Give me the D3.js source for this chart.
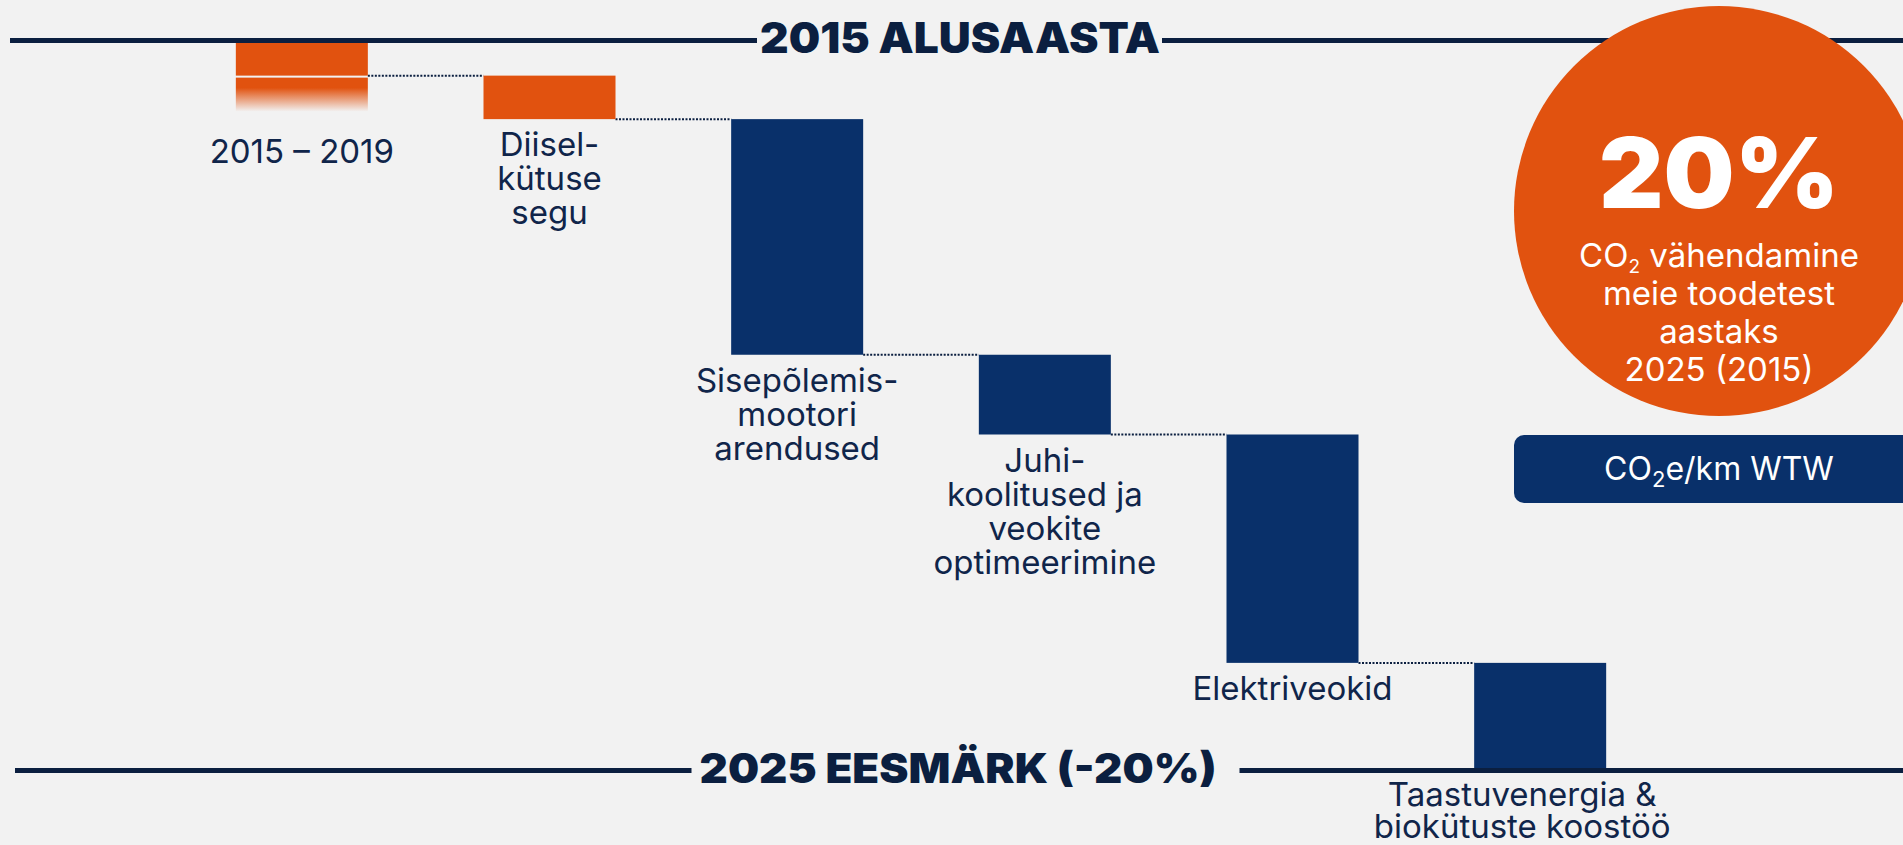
<!DOCTYPE html>
<html>
<head>
<meta charset="utf-8">
<script src="https://cdn.jsdelivr.net/npm/d3@7"></script>
<style>
  html, body { margin: 0; padding: 0; background: #f2f2f2; overflow: hidden; }
  svg { display: block; }
  text { font-family: Inter, "Noto Sans", sans-serif; }
</style>
</head>
<body>
<script>
// waterfall steps, percent of 2015 CO2e/km
const categories = ['2015-2019', 'diisel', 'sisepolemis', 'juhi', 'elektri', 'taastuv'];
const labelLines = [
  ['2015 – 2019'],
  ['Diisel-', 'kütuse', 'segu'],
  ['Sisepõlemis-', 'mootori', 'arendused'],
  ['Juhi-', 'koolitused ja', 'veokite', 'optimeerimine'],
  ['Elektriveokid'],
  ['Taastuvenergia &', 'biokütuste koostöö']
];
const reductions = [0.9, 1.2, 6.5, 2.2, 6.3, 2.9];
const stepKind = ['done', 'done', 'plan', 'plan', 'plan', 'plan'];
const target = 20;
const topTitle = '2015 ALUSAASTA';
const bottomTitle = '2025 EESMÄRK (-20%)';
const badgeValue = '20%';
const badgeLines = [['CO', '2', ' vähendamine'], ['meie toodetest'], ['aastaks'], ['2025 (2015)']];
const unitLabel = ['CO', '2', 'e/km WTW'];

const W = window.innerWidth, H = window.innerHeight;
const ORANGE = '#e1520f', NAVY = '#09306a', INK = '#0b1f40', TXT = '#10254a';

const svg = d3.select('body').append('svg')
    .attr('width', W)
    .attr('height', H);

const defs = svg.append('defs');
const fade = defs.append('linearGradient')
    .attr('id', 'fade').attr('x1', 0).attr('x2', 0).attr('y1', 0).attr('y2', 1);
fade.append('stop').attr('offset', '0%').attr('stop-color', ORANGE).attr('stop-opacity', 1);
fade.append('stop').attr('offset', '30%').attr('stop-color', ORANGE).attr('stop-opacity', 1);
fade.append('stop').attr('offset', '100%').attr('stop-color', ORANGE).attr('stop-opacity', 0);

const x = d3.scaleBand()
    .domain(categories)
    .range([178, 1664])
    .paddingInner(0.467)
    .paddingOuter(0.2335);

const y = d3.scaleLinear()
    .domain([0, target])
    .range([43, 768]);

let acc = 0;
const steps = categories.map((c, i) => {
  const s = { key: c, start: acc, end: acc + reductions[i], kind: stepKind[i], lines: labelLines[i] };
  acc += reductions[i];
  return s;
});

// baseline / target rules with titles
const rules = svg.append('g');
function rule(yy, title, size, len, cx, gapL, gapR, x0) {
  rules.append('line').attr('x1', x0).attr('x2', cx - len / 2 - gapL)
      .attr('y1', yy).attr('y2', yy).attr('stroke', INK).attr('stroke-width', 5);
  rules.append('line').attr('x1', cx + len / 2 + gapR).attr('x2', W)
      .attr('y1', yy).attr('y2', yy).attr('stroke', INK).attr('stroke-width', 5);
  rules.append('text')
      .attr('x', cx - len / 2).attr('y', yy + size * 0.3)
      .attr('textLength', len).attr('lengthAdjust', 'spacingAndGlyphs')
      .attr('font-size', size).attr('font-weight', 900).attr('fill', INK)
      .text(title);
}
rule(y(0) - 2.5, topTitle, 42, 400, 960, 3, 2, 10);
rule(y(target) + 2.5, bottomTitle, 41, 517, 958, 8, 23, 15);

// dotted connectors
const conn = svg.append('g');
steps.slice(1).forEach((s, i) => {
  const prev = steps[i];
  conn.append('line')
      .attr('x1', x(prev.key) + x.bandwidth())
      .attr('x2', x(s.key))
      .attr('y1', y(prev.end)).attr('y2', y(prev.end))
      .attr('stroke', INK).attr('stroke-width', 2)
      .attr('stroke-dasharray', '2 1.5');
});

// bars
const bars = svg.append('g');
bars.selectAll('rect.step')
    .data(steps)
    .enter()
      .append('rect')
        .attr('class', 'step')
        .attr('x', d => x(d.key))
        .attr('y', d => y(d.start))
        .attr('width', x.bandwidth())
        .attr('height', d => y(d.end) - y(d.start))
        .attr('fill', d => d.kind === 'done' ? ORANGE : NAVY);

// faded tail under the first step
const first = steps[0];
bars.append('rect')
    .attr('x', x(first.key))
    .attr('y', y(first.end) + 2)
    .attr('width', x.bandwidth())
    .attr('height', 34)
    .attr('fill', 'url(#fade)');

// step labels
const labels = svg.append('g');
steps.forEach((s, i) => {
  const last = i === steps.length - 1;
  const top = i === 0 ? y(s.end) + 87 : y(s.end) + (last ? 38 : 37);
  const cx = x(s.key) + x.bandwidth() / 2 + (last ? -18 : 0);
  const t = labels.append('text')
      .attr('x', cx).attr('y', top)
      .attr('text-anchor', 'middle')
      .attr('font-size', 33)
      .attr('fill', TXT);
  s.lines.forEach((ln, j) => {
    t.append('tspan').attr('x', cx).attr('dy', j === 0 ? 0 : (last ? 32 : 34)).text(ln);
  });
});

// badge
const badge = svg.append('g');
const bx = 1719;
badge.append('circle').attr('cx', bx).attr('cy', 211).attr('r', 205).attr('fill', ORANGE);
badge.append('text')
    .attr('x', bx - 120).attr('y', 208)
    .attr('textLength', 240).attr('lengthAdjust', 'spacingAndGlyphs')
    .attr('font-size', 98).attr('font-weight', 900).attr('fill', '#fff')
    .text(badgeValue);
const bt = badge.append('text')
    .attr('text-anchor', 'middle')
    .attr('font-size', 33).attr('fill', '#fff');
const badgeBase = [267, 305, 343, 381];
badgeLines.forEach((parts, j) => {
  const line = bt.append('tspan').attr('x', bx).attr('y', badgeBase[j]);
  if (parts.length === 1) {
    line.text(parts[0]);
  } else {
    line.append('tspan').text(parts[0]);
    line.append('tspan').attr('font-size', 19).attr('dy', 6).text(parts[1]);
    line.append('tspan').attr('dy', -6).text(parts[2]);
  }
});

// unit box
badge.append('rect')
    .attr('x', 1514).attr('y', 435)
    .attr('width', W - 1514 + 20).attr('height', 68)
    .attr('rx', 10)
    .attr('fill', NAVY);
const ut = badge.append('text')
    .attr('x', bx).attr('y', 480)
    .attr('text-anchor', 'middle')
    .attr('font-size', 32).attr('fill', '#fff');
ut.append('tspan').text(unitLabel[0]);
ut.append('tspan').attr('font-size', 22).attr('dy', 7).text(unitLabel[1]);
ut.append('tspan').attr('dy', -7).text(unitLabel[2]);
</script>
</body>
</html>
